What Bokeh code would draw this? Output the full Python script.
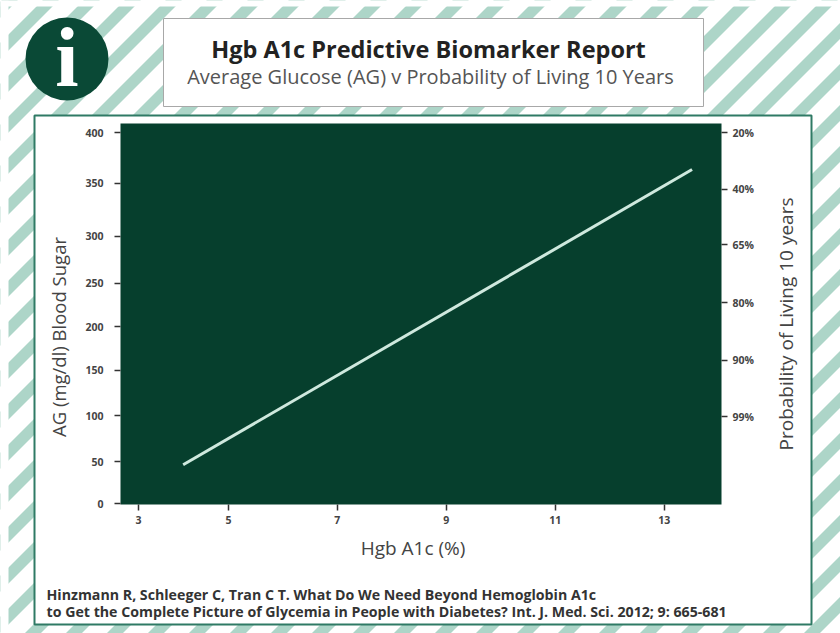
from math import pi
from bokeh.core.properties import value
from bokeh.embed import file_html
from bokeh.layouts import column, row
from bokeh.resources import INLINE
from bokeh.plotting import figure
from bokeh.models import LinearAxis, FixedTicker, Range1d

# ---- data ----
a1c_line = [4.17, 13.51]
ag_line = [42, 361]
x_tick_pos = [3.35, 5, 7, 9, 11, 13]
x_tick_labels = ["3", "5", "7", "9", "11", "13"]
ag_tick_pos = [0, 45, 95, 144, 191, 238, 289, 346, 401]
ag_tick_labels = ["0", "50", "100", "150", "200", "250", "300", "350", "400"]
prob_tick_pos = [401, 340, 280, 217, 155, 94]
prob_tick_labels = ["20%", "40%", "65%", "80%", "90%", "99%"]

title = "Hgb A1c Predictive Biomarker Report"
subtitle = "Average Glucose (AG) v Probability of Living 10 Years"
x_label = "Hgb A1c (%)"
y_label = "AG (mg/dl) Blood Sugar"
y2_label = "Probability of Living 10 years"
foot1 = "Hinzmann R, Schleeger C, Tran C T. What Do We Need Beyond Hemoglobin A1c"
foot2 = "to Get the Complete Picture of Glycemia in People with Diabetes? Int. J. Med. Sci. 2012; 9: 665-681"

DARK = "#063f2d"
STRIPE = "#add5c8"
FONT = "Open Sans"
W, H = 840, 633

# ---- backdrop: page-pixel coordinates, decoration only ----
bg = figure(width=W, height=H, output_backend="svg", toolbar_location=None,
            x_range=Range1d(0, W), y_range=Range1d(H, 0),
            min_border=0, x_axis_type=None, y_axis_type=None)
bg.grid.visible = False
bg.outline_line_color = None
bg.background_fill_color = "white"
bg.border_fill_color = "white"

# stripes are the bands c <= x + y <= c + 16
xs, ys = [], []
c = 780 - 41 * 20
while c < W + H:
    xs.append([c + 20, c + 36, c + 36 - 700, c + 20 - 700])
    ys.append([-20, -20, 680, 680])
    c += 41
bg.patches(xs, ys, fill_color=STRIPE, line_color=None)

bg.quad(left=[0, 0], right=[W, 8], top=[0, 0], bottom=[6, H], fill_color="white", line_color=None)
bg.quad(left=[34], right=[811], top=[115], bottom=[624], fill_color="white",
        line_color="#2f7a65", line_width=2)
bg.quad(left=[163], right=[703], top=[18], bottom=[106], fill_color="white",
        line_color="#a8a8a8", line_width=1)
bg.quad(left=[120], right=[721], top=[123], bottom=[504], fill_color=DARK, line_color=None)
bg.circle([66.5], [58.5], radius=41.5, fill_color="#0a4936", line_color=None)


def add_text(text, px, py, size, color, bold=False, align="center", angle=0, font=FONT):
    bg.text([px], [py], text=[text], text_font=value(font), text_font_size=f"{size}px",
            text_color=color, text_font_style="bold" if bold else "normal", text_align=align,
            text_baseline="middle", angle=angle)


add_text("i", 66.5, 57, 84, "white", bold=True, font="Liberation Serif")
add_text(title, 428, 48, 23.5, "#222222", bold=True)
add_text(subtitle, 430, 76, 20, "#555555")
add_text(x_label, 412.5, 547, 19, "#444444")
add_text(y_label, 58, 336.5, 18.5, "#444444", angle=pi / 2)
add_text(y2_label, 785, 323.5, 19, "#444444", angle=pi / 2)
add_text(foot1, 46, 594, 14.2, "#333333", bold=True, align="left")
add_text(foot2, 46, 611, 14.2, "#333333", bold=True, align="left")

# ---- chart: transparent, laid over the backdrop ----
p = figure(width=W, height=H, output_backend="svg", toolbar_location=None,
           x_range=Range1d(3.02, 14.05), y_range=Range1d(-1, 410.8),
           min_border_left=120, min_border_right=W - 721,
           min_border_top=123, min_border_bottom=H - 504)
p.grid.visible = False
p.outline_line_color = None
p.background_fill_alpha = 0
p.border_fill_alpha = 0

p.line(a1c_line, ag_line, line_color="#cfe9de", line_width=3)

xa = p.xaxis[0]
xa.ticker = FixedTicker(ticks=x_tick_pos)
xa.major_label_overrides = dict(zip(x_tick_pos, x_tick_labels))
ya = p.yaxis[0]
ya.ticker = FixedTicker(ticks=ag_tick_pos)
ya.major_label_overrides = dict(zip(ag_tick_pos, ag_tick_labels))
p.extra_y_ranges = {"prob": Range1d(-1, 410.8)}
ra = LinearAxis(y_range_name="prob", ticker=FixedTicker(ticks=prob_tick_pos),
                major_label_overrides=dict(zip(prob_tick_pos, prob_tick_labels)))
p.add_layout(ra, "right")
for ax, standoff in ((xa, 5), (ya, 11), (ra, 5)):
    ax.axis_line_color = None
    ax.major_tick_in = 0
    ax.major_tick_out = 6
    ax.major_tick_line_color = "#333333"
    ax.major_tick_line_width = 1.5
    ax.minor_tick_line_color = None
    ax.major_label_text_font = FONT
    ax.major_label_text_font_size = "10.5px"
    ax.major_label_text_font_style = "bold"
    ax.major_label_text_color = "#444444"
    ax.major_label_standoff = standoff

page = column(row(bg), row(p, margin=(-H, 0, 0, 0)), spacing=0)
open("out.html", "w").write(file_html(page, INLINE))
